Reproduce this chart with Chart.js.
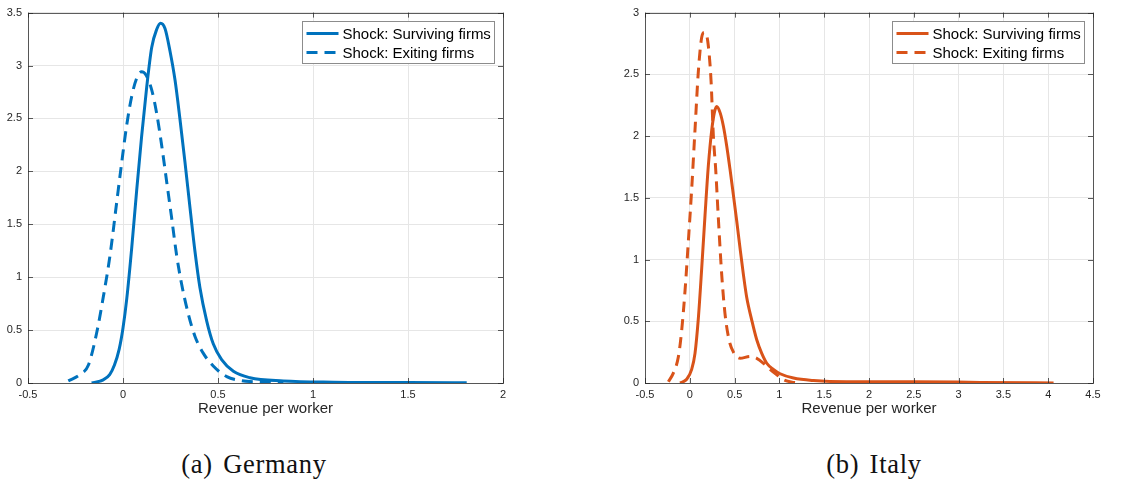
<!DOCTYPE html>
<html>
<head>
<meta charset="utf-8">
<script src="https://cdn.jsdelivr.net/npm/chart.js@4.4.1/dist/chart.umd.min.js"></script>
<style>
  body { margin: 0; background: #fff; width: 1134px; height: 480px; position: relative; overflow: hidden; }
  .panel { position: absolute; top: 0; }
  .caption { position: absolute; top: 449px; font-family: "Liberation Serif", "DejaVu Serif", serif; font-size: 26.5px; letter-spacing: 0.7px; word-spacing: 3px; color: #111; text-align: center; width: 300px; line-height: 30px; }
</style>
</head>
<body>
<div class="panel" style="left:0;width:520px;height:420px;"><canvas id="chart-de"></canvas></div>
<div class="panel" style="left:600px;width:510px;height:420px;"><canvas id="chart-it"></canvas></div>
<div class="caption" style="left:104px;">(a) Germany</div>
<div class="caption" style="left:724px;">(b) Italy</div>
<script>
// Germany - surviving firms
const deSurvX = [-0.165, -0.104, -0.070, -0.045, -0.020, 0.000, 0.020, 0.046, 0.072, 0.098, 0.125, 0.151, 0.177, 0.198, 0.221, 0.247, 0.274, 0.300, 0.326, 0.353, 0.379, 0.405, 0.440, 0.475, 0.519, 0.581, 0.668, 0.844, 1.107, 1.500, 1.809];
const deSurvY = [0.0, 0.03, 0.08, 0.17, 0.32, 0.52, 0.80, 1.28, 1.82, 2.33, 2.80, 3.17, 3.34, 3.40, 3.35, 3.14, 2.86, 2.49, 2.09, 1.65, 1.24, 0.90, 0.59, 0.37, 0.22, 0.11, 0.05, 0.02, 0.008, 0.004, 0.002];
// Germany - exiting firms
const deExitX = [-0.288, -0.226, -0.182, -0.139, -0.104, -0.068, -0.033, -0.007, 0.019, 0.046, 0.072, 0.098, 0.121, 0.151, 0.177, 0.204, 0.230, 0.256, 0.282, 0.309, 0.344, 0.379, 0.423, 0.475, 0.546, 0.616, 0.756, 0.844];
const deExitY = [0.02, 0.08, 0.17, 0.47, 0.81, 1.21, 1.71, 2.08, 2.43, 2.71, 2.88, 2.94, 2.91, 2.77, 2.55, 2.24, 1.90, 1.56, 1.21, 0.93, 0.65, 0.44, 0.28, 0.16, 0.06, 0.025, 0.006, 0.0];
// Italy - surviving firms
const itSurvX = [-0.109, -0.035, 0.021, 0.058, 0.096, 0.133, 0.170, 0.207, 0.245, 0.274, 0.300, 0.338, 0.375, 0.412, 0.449, 0.487, 0.524, 0.561, 0.598, 0.636, 0.691, 0.747, 0.803, 0.859, 0.933, 1.008, 1.157, 1.380, 1.752, 2.497, 3.242, 4.060];
const itSurvY = [0.0, 0.03, 0.11, 0.24, 0.53, 0.93, 1.36, 1.76, 2.05, 2.19, 2.24, 2.19, 2.08, 1.92, 1.73, 1.52, 1.31, 1.09, 0.88, 0.69, 0.51, 0.35, 0.24, 0.16, 0.11, 0.075, 0.04, 0.02, 0.01, 0.01, 0.005, 0.0];
// Italy - exiting firms
const itExitX = [-0.239, -0.184, -0.128, -0.090, -0.053, -0.016, 0.021, 0.058, 0.096, 0.133, 0.163, 0.200, 0.237, 0.263, 0.289, 0.319, 0.356, 0.393, 0.438, 0.487, 0.561, 0.673, 0.747, 0.822, 0.896, 0.971, 1.045, 1.157, 1.231];
const itExitY = [0.01, 0.08, 0.21, 0.43, 0.75, 1.15, 1.57, 2.05, 2.53, 2.80, 2.84, 2.77, 2.45, 2.00, 1.73, 1.33, 0.88, 0.56, 0.35, 0.25, 0.20, 0.215, 0.20, 0.16, 0.11, 0.067, 0.027, 0.005, 0.0];

const seriesLabels = ['Shock: Surviving firms', 'Shock: Exiting firms'];
const xTitle = 'Revenue per worker';

const blue = '#0072BD';
const orange = '#D95319';
const axisColor = '#262626';
const dashPattern = [11, 7];
const fontFamily = '"Liberation Sans", Arial, sans-serif';

function toPoints(xs, ys) {
    return xs.map((x, i) => ({ x: x, y: ys[i] }));
}

// tick labels like matlab: 1 not 1.0
function tickFormat(v) {
    return String(+v.toFixed(2));
}

// box, inward ticks and legend drawn the matlab way
const matlabFrame = {
    id: 'matlabFrame',
    afterDatasetsDraw(chart) {
        const ctx = chart.ctx;
        const area = chart.chartArea;
        const xs = chart.scales.x;
        const ys = chart.scales.y;
        ctx.save();
        ctx.strokeStyle = 'rgba(38,38,38,0.75)';
        ctx.lineWidth = 1;
        ctx.beginPath();
        xs.ticks.forEach(t => {
            const px = Math.round(xs.getPixelForValue(t.value)) + 0.5;
            ctx.moveTo(px, area.bottom); ctx.lineTo(px, area.bottom - 5);
            ctx.moveTo(px, area.top); ctx.lineTo(px, area.top + 5);
        });
        ys.ticks.forEach(t => {
            const py = Math.round(ys.getPixelForValue(t.value)) + 0.5;
            ctx.moveTo(area.left, py); ctx.lineTo(area.left + 5, py);
            ctx.moveTo(area.right, py); ctx.lineTo(area.right - 5, py);
        });
        ctx.stroke();
        ctx.strokeRect(Math.round(area.left) + 0.5, Math.round(area.top) + 0.5,
            Math.round(area.right - area.left), Math.round(area.bottom - area.top));

        // legend
        ctx.font = '15px ' + fontFamily;
        const textW = Math.max(...chart.data.datasets.map(d => ctx.measureText(d.label).width));
        const boxW = Math.round(4 + 32 + 4 + textW + 4);
        const boxH = 42;
        const bx = Math.round(area.right - 9 - boxW) + 0.5;
        const by = Math.round(area.top + 8) + 0.5;
        ctx.fillStyle = '#fff';
        ctx.fillRect(bx, by, boxW, boxH);
        ctx.strokeStyle = '#8c8c8c';
        ctx.strokeRect(bx, by, boxW, boxH);
        chart.data.datasets.forEach((d, i) => {
            const cy = by + 12 + i * 19;
            ctx.strokeStyle = d.borderColor;
            ctx.lineWidth = 3;
            ctx.setLineDash(d.borderDash || []);
            ctx.beginPath();
            ctx.moveTo(bx + 4, cy); ctx.lineTo(bx + 36, cy);
            ctx.stroke();
            ctx.setLineDash([]);
            ctx.fillStyle = '#000';
            ctx.textBaseline = 'middle';
            ctx.textAlign = 'left';
            ctx.fillText(d.label, bx + 40, cy + 1);
        });
        ctx.restore();
    }
};

function makeChart(id, color, surv, exit, xMax, yMax, yWidth) {
    const ctx = document.getElementById(id).getContext('2d');
    return new Chart(ctx, {
        type: 'line',
        data: {
            datasets: [
                { label: seriesLabels[0], data: surv, borderColor: color, borderWidth: 3, pointRadius: 0, cubicInterpolationMode: 'monotone', fill: false },
                { label: seriesLabels[1], data: exit, borderColor: color, borderWidth: 3, borderDash: dashPattern, pointRadius: 0, cubicInterpolationMode: 'monotone', fill: false }
            ]
        },
        options: {
            responsive: true,
            maintainAspectRatio: false,
            animation: false,
            layout: { padding: { top: 8, right: 17, left: 0, bottom: 2 } },
            plugins: {
                legend: { display: false },
                tooltip: { enabled: false }
            },
            scales: {
                x: {
                    type: 'linear',
                    min: -0.5,
                    max: xMax,
                    afterFit: s => { s.height = 35; },
                    ticks: { stepSize: 0.5, padding: 5, color: axisColor, font: { family: fontFamily, size: 11 }, maxRotation: 0, autoSkip: false, callback: tickFormat },
                    grid: { color: '#e6e6e6', drawTicks: false },
                    border: { display: false },
                    title: { display: true, text: xTitle, color: axisColor, font: { family: fontFamily, size: 15 }, padding: { top: 0, bottom: 0 } }
                },
                y: {
                    min: 0,
                    max: yMax,
                    afterFit: s => { s.width = yWidth; },
                    ticks: { stepSize: 0.5, padding: 6, color: axisColor, font: { family: fontFamily, size: 11 }, callback: tickFormat },
                    grid: { color: '#e6e6e6', drawTicks: false },
                    border: { display: false }
                }
            }
        },
        plugins: [matlabFrame]
    });
}

makeChart('chart-de', blue, toPoints(deSurvX, deSurvY), toPoints(deExitX, deExitY), 2, 3.5, 28);
makeChart('chart-it', orange, toPoints(itSurvX, itSurvY), toPoints(itExitX, itExitY), 4.5, 3, 45);
</script>
</body>
</html>
